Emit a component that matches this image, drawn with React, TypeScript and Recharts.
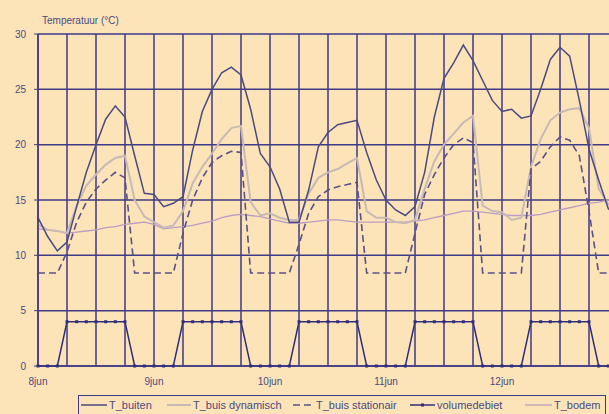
import { LineChart, Line, XAxis, YAxis, CartesianGrid } from "recharts";

// samples every 2 hours, starting 8 jun 00:00
const STEP_HOURS = 2;
const dayLabels = ["8jun", "9jun", "10jun", "11jun", "12jun"];
const yTicks = [0, 5, 10, 15, 20, 25, 30];

const tBuiten = [
  13.4, 11.7, 10.4, 11.2, 14.4, 17.5, 20.0, 22.3, 23.5, 22.5, 19.0, 15.6,
  15.5, 14.4, 14.7, 15.3, 19.5, 23.0, 25.0, 26.5, 27.0, 26.3, 23.2, 19.2,
  18.0, 16.0, 13.0, 13.0, 15.9, 19.8, 21.1, 21.8, 22.0, 22.2, 19.3, 16.8,
  15.0, 14.1, 13.6, 14.4, 17.5, 22.5, 26.0, 27.4, 29.0, 27.6, 25.8, 24.0,
  23.0, 23.2, 22.4, 22.6, 25.0, 27.7, 28.8, 28.0, 24.0, 19.6, 16.8, 14.2,
  13.5,
];

const tBuisDynamisch = [
  12.8, 12.3, 12.2, 12.0, 14.5, 16.3, 17.3, 18.2, 18.8, 19.0, 15.0, 13.5,
  13.0, 12.5, 12.7, 14.0, 16.5, 18.0, 19.2, 20.5, 21.5, 21.7, 14.8, 13.6,
  13.8, 13.4, 13.2, 13.2, 15.6, 17.0, 17.5, 17.8, 18.3, 18.8, 14.0, 13.4,
  13.4, 13.0, 12.9, 13.2, 16.0, 18.5, 20.0, 21.0, 22.0, 22.6, 14.5, 14.0,
  13.9, 13.2, 13.4, 18.0, 20.5, 22.2, 22.9, 23.2, 23.3, 21.5, 16.0, 14.6,
  14.4,
];

const tBuisStationair = [
  8.4, 8.4, 8.4, 10.3, 13.0, 14.8, 16.0, 16.8, 17.5, 17.0, 8.4, 8.4,
  8.4, 8.4, 8.4, 12.0, 15.0, 17.0, 18.4, 19.0, 19.4, 19.3, 8.4, 8.4,
  8.4, 8.4, 8.4, 11.0, 13.8, 15.3, 15.9, 16.2, 16.4, 16.6, 8.4, 8.4,
  8.4, 8.4, 8.4, 12.0, 15.5, 17.3, 18.8, 20.0, 20.6, 20.2, 8.4, 8.4,
  8.4, 8.4, 8.4, 17.8, 18.5, 19.8, 20.7, 20.4, 19.0, 14.0, 8.4, 8.4,
  8.4,
];

const volumedebiet = [
  0, 0, 0, 4, 4, 4, 4, 4, 4, 4, 0, 0,
  0, 0, 0, 4, 4, 4, 4, 4, 4, 4, 0, 0,
  0, 0, 0, 4, 4, 4, 4, 4, 4, 4, 0, 0,
  0, 0, 0, 4, 4, 4, 4, 4, 4, 4, 0, 0,
  0, 0, 0, 4, 4, 4, 4, 4, 4, 4, 0, 0,
  0,
];

const tBodem = [
  12.4, 12.3, 12.2, 12.0, 12.1, 12.2, 12.3, 12.5, 12.6, 12.8, 12.9, 13.0,
  12.8, 12.4, 12.5, 12.6, 12.7, 12.9, 13.1, 13.4, 13.6, 13.7, 13.6, 13.5,
  13.3, 13.1, 12.9, 12.9, 13.0, 13.1, 13.2, 13.2, 13.1, 13.0, 13.0, 13.0,
  13.0, 13.0, 13.0, 13.1, 13.2, 13.4, 13.6, 13.8, 14.0, 14.0, 13.9, 13.8,
  13.7, 13.6, 13.6, 13.6, 13.7, 13.9, 14.1, 14.3, 14.5, 14.7, 14.8, 15.0,
  15.0,
];

const data = tBuiten.map((v, i) => ({
  h: i * STEP_HOURS,
  tBuiten: v,
  tBuisDynamisch: tBuisDynamisch[i],
  tBuisStationair: tBuisStationair[i],
  volumedebiet: volumedebiet[i],
  tBodem: tBodem[i],
}));

// a grid line every 6 hours
const gridTicks = Array.from({ length: 21 }, (_, i) => i * 6);

const BG = "#fce4b8";
const GRID = "#3f3a86";
const TEXT = "#4a4a80";
const C_BUITEN = "#4b4a80";
const C_DYN = "#c7b9b6";
const C_STAT = "#5b5088";
const C_VOL = "#302e7c";
const C_BODEM = "#bb9dc2";
const FONT = "'Liberation Sans', Arial, sans-serif";

const SquareDot = (props: any) => {
  const { cx, cy, index } = props;
  return <rect key={`d${index}`} x={cx - 1.5} y={cy - 1.5} width={3} height={3} fill={C_VOL} />;
};

const legendItems = [
  { label: "T_buiten", color: C_BUITEN, dash: undefined, width: 1.5, marker: false, left: 2, lineW: 26 },
  { label: "T_buis dynamisch", color: C_DYN, dash: undefined, width: 2, marker: false, left: 88, lineW: 24 },
  { label: "T_buis stationair", color: C_STAT, dash: "7 4", width: 1.6, marker: false, left: 214, lineW: 21 },
  { label: "volumedebiet", color: C_VOL, dash: undefined, width: 1.5, marker: true, left: 331, lineW: 25 },
  { label: "T_bodem", color: C_BODEM, dash: undefined, width: 1.3, marker: false, left: 446, lineW: 27 },
];

export default function App() {
  return (
    <div
      style={{
        position: "absolute",
        left: 0,
        top: 0,
        width: 609,
        height: 414,
        overflow: "hidden",
        background: BG,
        fontFamily: FONT,
      }}
    >
      <div style={{ position: "absolute", left: 42, top: 15, fontSize: 10, color: TEXT }}>
        Temperatuur (°C)
      </div>
      <LineChart
        width={620}
        height={414}
        data={data}
        margin={{ top: 34, right: 2, left: 8, bottom: 0 }}
      >
        <CartesianGrid stroke={GRID} strokeWidth={1.5} />
        <XAxis
          dataKey="h"
          type="number"
          domain={[0, 120]}
          ticks={gridTicks}
          interval={0}
          height={48}
          tickLine={false}
          tickSize={4}
          tickMargin={8}
          axisLine={{ stroke: GRID, strokeWidth: 1.5 }}
          tick={{ fill: TEXT, fontSize: 10, fontFamily: FONT }}
          tickFormatter={(v: number) => (v % 24 === 0 ? dayLabels[v / 24] ?? "" : "")}
        />
        <YAxis
          domain={[0, 30]}
          ticks={yTicks}
          interval={0}
          width={30}
          tickSize={4}
          tickMargin={8}
          axisLine={{ stroke: GRID, strokeWidth: 1.5 }}
          tickLine={{ stroke: GRID }}
          tick={{ fill: TEXT, fontSize: 10, fontFamily: FONT }}
        />
        <Line dataKey="tBodem" stroke={C_BODEM} strokeWidth={1.3} dot={false} isAnimationActive={false} />
        <Line dataKey="tBuisDynamisch" stroke={C_DYN} strokeWidth={2} dot={false} isAnimationActive={false} />
        <Line
          dataKey="tBuisStationair"
          stroke={C_STAT}
          strokeWidth={1.6}
          strokeDasharray="7 4"
          dot={false}
          isAnimationActive={false}
        />
        <Line dataKey="tBuiten" stroke={C_BUITEN} strokeWidth={1.5} dot={false} isAnimationActive={false} />
        <Line
          dataKey="volumedebiet"
          stroke={C_VOL}
          strokeWidth={1.5}
          dot={SquareDot}
          isAnimationActive={false}
        />
      </LineChart>
      <div
        style={{
          position: "absolute",
          left: 78,
          top: 395,
          width: 528,
          height: 26,
          border: `1px solid ${GRID}`,
          boxSizing: "border-box",
        }}
      >
        {legendItems.map((it) => (
          <div
            key={it.label}
            style={{
              position: "absolute",
              left: it.left,
              top: 3,
              display: "flex",
              alignItems: "center",
              fontSize: 11,
              color: TEXT,
              whiteSpace: "nowrap",
            }}
          >
            <svg width={it.lineW} height={10} style={{ marginRight: 2 }}>
              <line
                x1={0}
                y1={5}
                x2={it.lineW}
                y2={5}
                stroke={it.color}
                strokeWidth={it.width}
                strokeDasharray={it.dash}
              />
              {it.marker && <rect x={it.lineW / 2 - 1.5} y={3.5} width={3} height={3} fill={it.color} />}
            </svg>
            <span>{it.label}</span>
          </div>
        ))}
      </div>
    </div>
  );
}
